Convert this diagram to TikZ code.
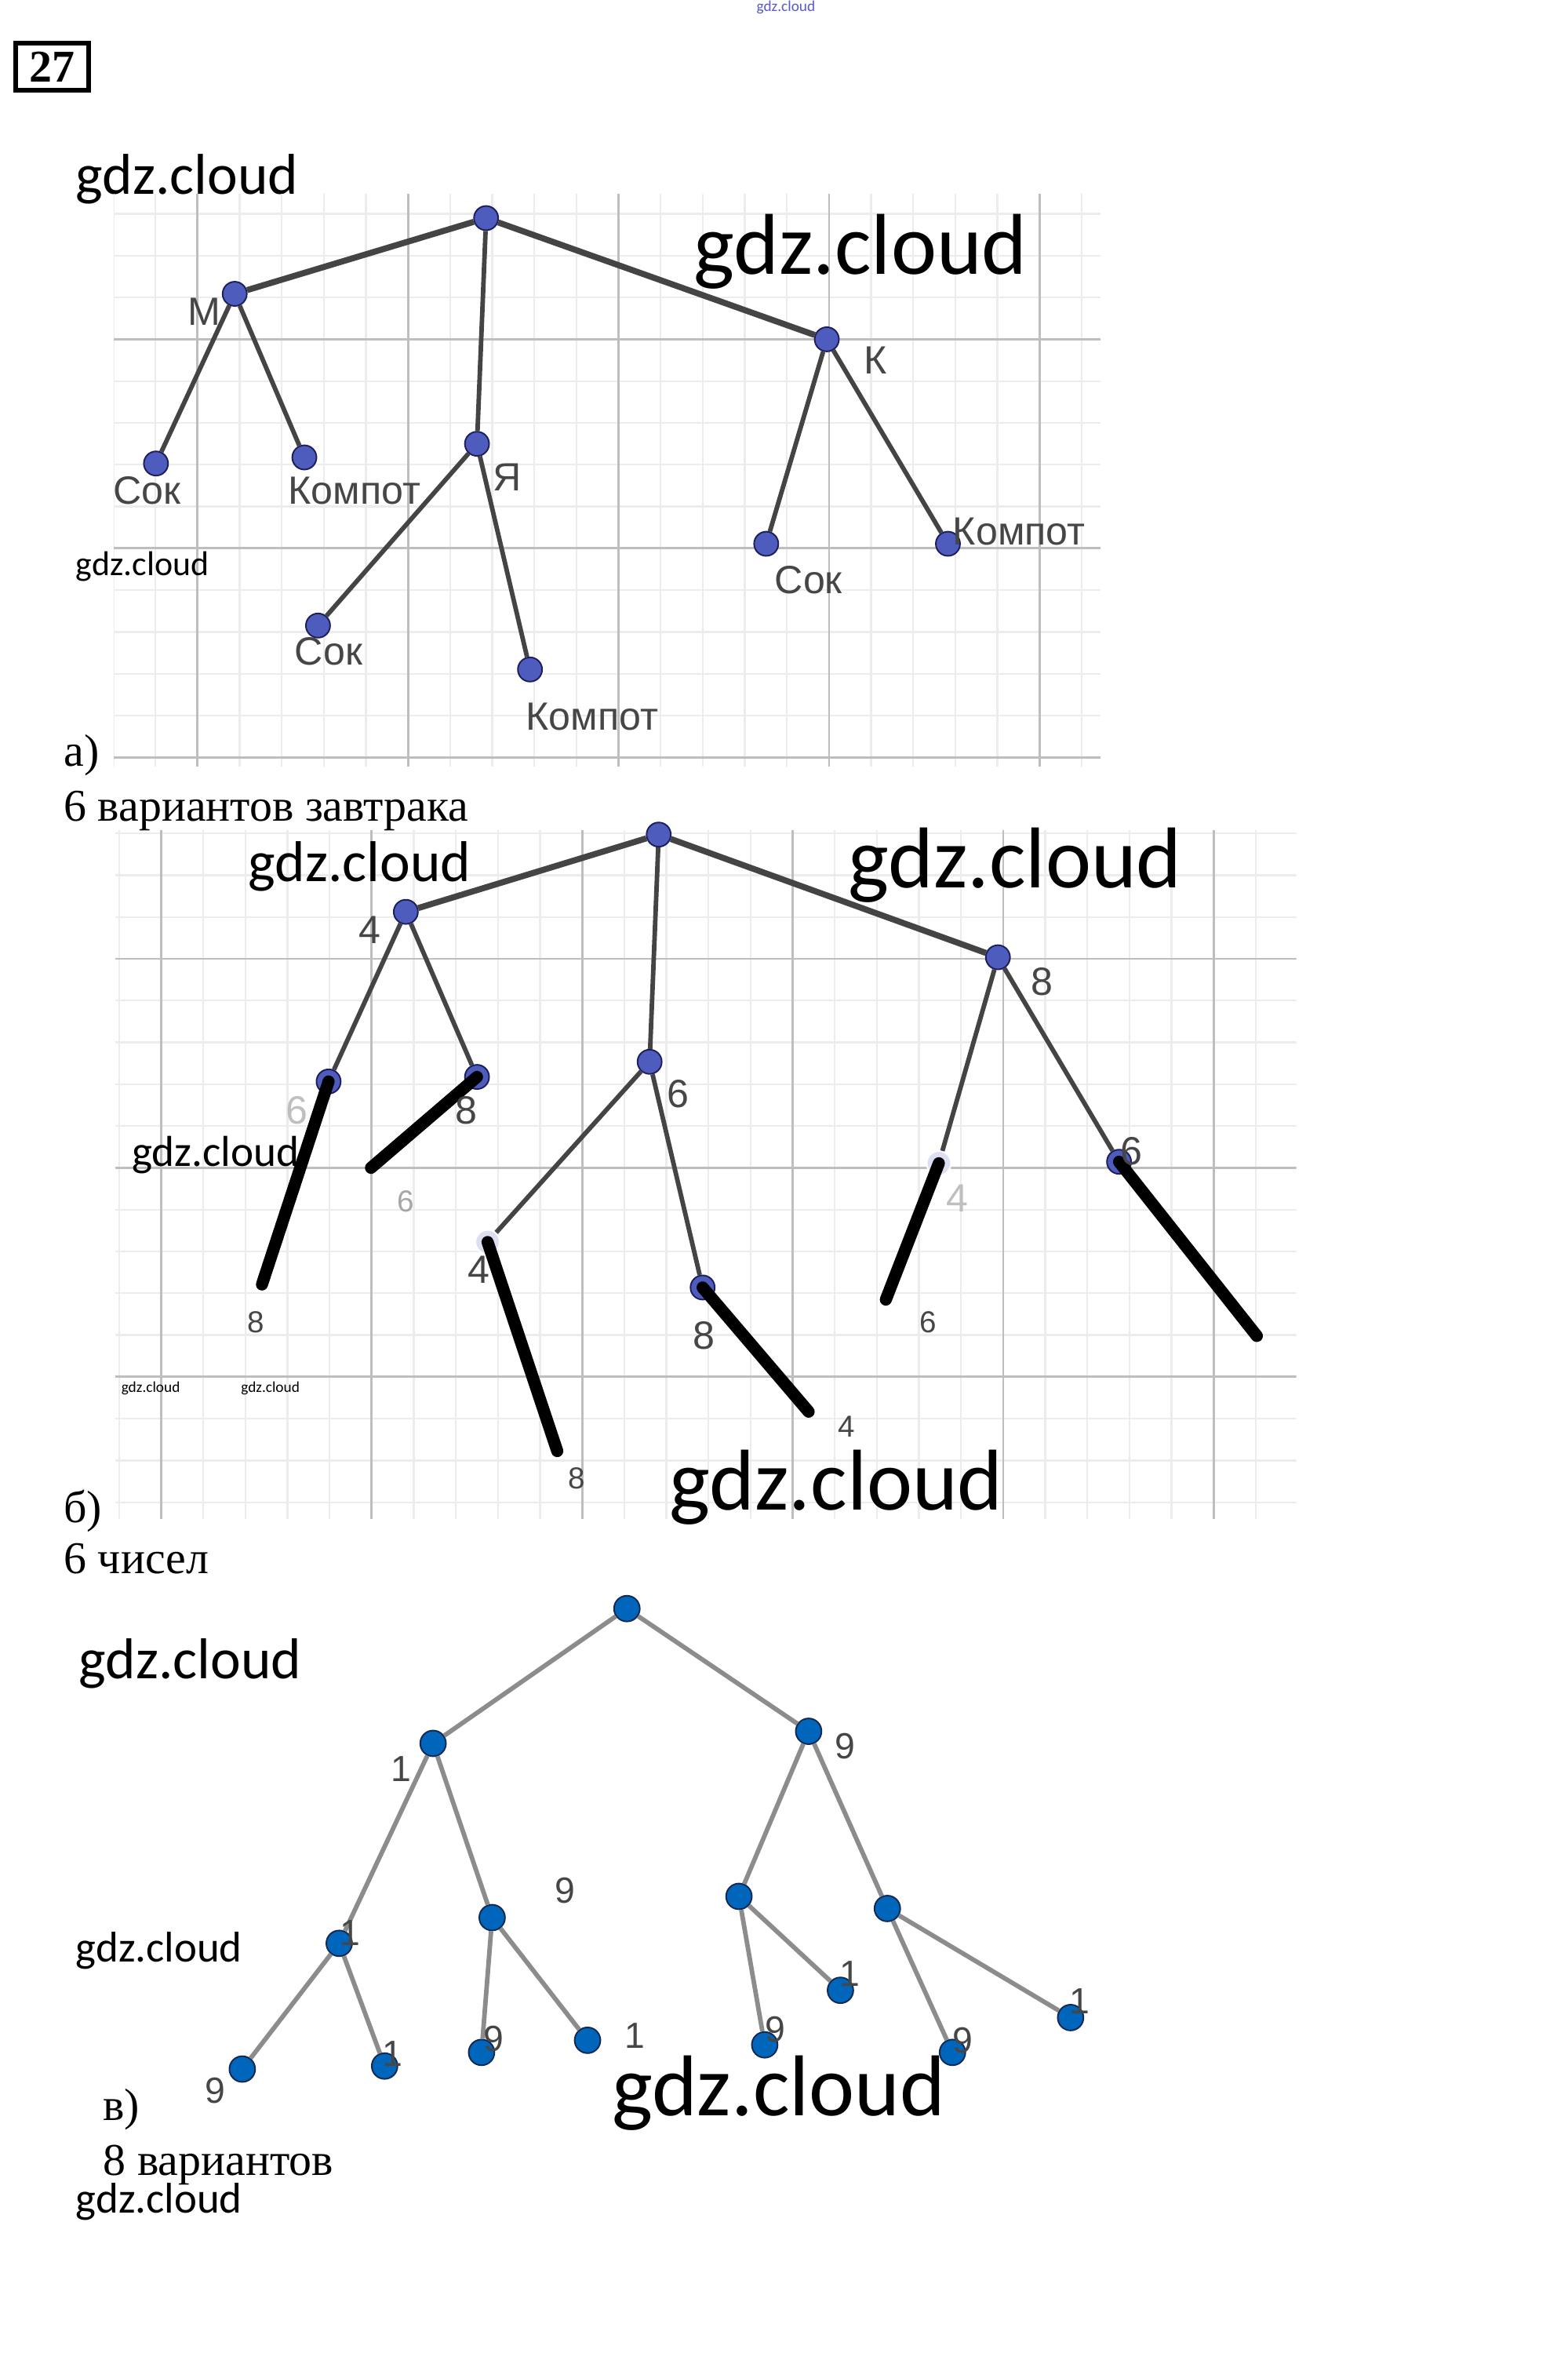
\documentclass[tikz,border=0pt]{standalone}
\usepackage{fontspec}
\setmainfont{Liberation Serif}
\newfontfamily\gdzf{Carlito}
\newfontfamily\labf{Liberation Sans}
\definecolor{nblue}{RGB}{78,92,190}
\definecolor{nedge}{RGB}{30,30,90}
\definecolor{vblue}{RGB}{0,102,187}
\definecolor{vedge}{RGB}{20,40,80}
\definecolor{ecol}{RGB}{68,68,68}
\definecolor{vecol}{RGB}{140,140,140}
\definecolor{gmaj}{RGB}{190,190,190}
\definecolor{gmin}{RGB}{236,236,236}
\definecolor{labc}{RGB}{70,70,70}
\definecolor{tinyblue}{RGB}{90,90,200}
\tikzset{
  wm/.style={font=\gdzf\fontsize{#1}{#1}\selectfont, anchor=base west, inner sep=0pt},
  serif/.style={font=\fontsize{30}{30}\selectfont, anchor=base west, inner sep=0pt},
  lab/.style={font=\labf\fontsize{#1}{#1}\selectfont, text=labc, inner sep=0pt},
  na/.style={circle, fill=nblue, draw=nedge, line width=1pt, minimum size=16pt, inner sep=0pt},
  nfade/.style={circle, fill=nblue!20, draw=white, line width=1pt, minimum size=16pt, inner sep=0pt},
  nv/.style={circle, fill=vblue, draw=vedge, line width=1pt, minimum size=17pt, inner sep=0pt},
  ea/.style={draw=ecol, line width=3pt},
  eroot/.style={draw=ecol, line width=4pt},
  ev/.style={draw=vecol, line width=3pt},
  thick stroke/.style={draw=black, line width=8pt, line cap=round},
  gminor/.style={draw=gmin, line width=1.2pt},
  gmajor/.style={draw=gmaj, line width=1.5pt},
}
\begin{document}
\begin{tikzpicture}[x=1pt,y=-1pt]
\useasboundingbox[fill=white] (0,0) rectangle (1035,1568);

% header
\node[font=\gdzf\fontsize{10}{10}\selectfont, text=tinyblue, inner sep=0pt] (hdr) at (519,5) {gdz.cloud};
\node[draw=black, line width=3pt, minimum width=48pt, minimum height=31pt, inner sep=0pt,
      font=\bfseries\fontsize{30}{30}\selectfont] (num) at (34.5,44) {27};
\node[wm=38] (w1) at (50,128) {gdz.cloud};

% ---------- grid a ----------
\begin{scope}
\clip (75,128) rectangle (727,506);
\foreach \i in {-2,...,21} \draw[gminor] ({130.5+27.8*\i},128) -- ({130.5+27.8*\i},506);
\foreach \j in {-4,...,10} \draw[gminor] (75,{224+27.6*\j}) -- (727,{224+27.6*\j});
\foreach \i in {0,...,4} \draw[gmajor] ({130.5+139*\i},128) -- ({130.5+139*\i},506);
\foreach \j in {0,1,2} \draw[gmajor] (75,{224+138*\j}) -- (727,{224+138*\j});
\end{scope}

% ---------- tree a ----------
\node[na] (ar) at (321,144) {};
\node[na] (am) at (155,194) {};
\node[na] (ak) at (546,224) {};
\node[na] (aja) at (315,293) {};
\node[na] (am1) at (103,306) {};
\node[na] (am2) at (201,302) {};
\node[na] (aj1) at (210,413) {};
\node[na] (aj2) at (350,442) {};
\node[na] (ak1) at (506,359) {};
\node[na] (ak2) at (626,359) {};
\draw[eroot] (ar) -- (am);
\draw[eroot] (ar) -- (ak);
\draw[ea] (ar) -- (aja);
\draw[ea] (am) -- (am1);
\draw[ea] (am) -- (am2);
\draw[ea] (aja) -- (aj1);
\draw[ea] (aja) -- (aj2);
\draw[ea] (ak) -- (ak1);
\draw[ea] (ak) -- (ak2);

\node[lab=26] (lm) at (135,206) {М};
\node[lab=26] (lk) at (578,238) {К};
\node[lab=26] (lja) at (335,315) {Я};
\node[lab=26] (lm1) at (97,324) {Сок};
\node[lab=26] (lm2) at (234,324) {Компот};
\node[lab=26] (lj1) at (217,430) {Сок};
\node[lab=26] (lj2) at (391,473) {Компот};
\node[lab=26] (lk1) at (534,383) {Сок};
\node[lab=26] (lk2) at (673,351) {Компот};

\node[wm=57] (w2) at (458,181) {gdz.cloud};
\node[wm=22.7] (w3) at (50,380) {gdz.cloud};
\node[serif] (ta) at (42,506) {а)};
\node[serif] (ta2) at (42,542) {6 вариантов завтрака};

% ---------- grid b ----------
\begin{scope}
\clip (76,548) rectangle (856,1003);
\foreach \i in {-2,...,27} \draw[gminor] ({106.5+27.8*\i},548) -- ({106.5+27.8*\i},1003);
\foreach \j in {-4,...,14} \draw[gminor] (76,{633+27.6*\j}) -- (856,{633+27.6*\j});
\foreach \i in {0,...,5} \draw[gmajor] ({106.5+139*\i},548) -- ({106.5+139*\i},1003);
\foreach \j in {0,1,2} \draw[gmajor] (76,{633+138*\j}) -- (856,{633+138*\j});
\end{scope}

% ---------- tree b ----------
\node[na] (br) at (435,551) {};
\node[na] (b4) at (268,602) {};
\node[na] (b8) at (659,632) {};
\node[na] (b6) at (429,701) {};
\node[na] (b46) at (217,714) {};
\node[na] (b48) at (315,711) {};
\node[nfade] (b64) at (322,820) {};
\node[na] (b68) at (464,850) {};
\node[nfade] (b84) at (620,768) {};
\node[na] (b86) at (739,767) {};
\draw[eroot] (br) -- (b4);
\draw[eroot] (br) -- (b8);
\draw[ea] (br) -- (b6);
\draw[ea] (b4) -- (b46);
\draw[ea] (b4) -- (b48);
\draw[ea] (b6) -- (b64);
\draw[ea] (b6) -- (b68);
\draw[ea] (b8) -- (b84);
\draw[ea] (b8) -- (b86);

\coordinate (c1) at (173,848);
\coordinate (c2) at (245,771);
\coordinate (c3) at (368,958);
\coordinate (c4) at (534,932);
\coordinate (c5) at (585,858);
\coordinate (c6) at (830,882);
\draw[thick stroke] (b46.center) -- (c1);
\draw[thick stroke] (b48.center) -- (c2);
\draw[thick stroke] (b64.center) -- (c3);
\draw[thick stroke] (b68.center) -- (c4);
\draw[thick stroke] (b84.center) -- (c5);
\draw[thick stroke] (b86.center) -- (c6);

\node[lab=26] (l4) at (244,614) {4};
\node[lab=26] (l8) at (688,648) {8};
\node[lab=26] (l6) at (448,722) {6};
\node[lab=26, text=gray!50] (l46) at (196,733) {6};
\node[lab=26] (l48) at (308,733) {8};
\node[lab=20, text=gray!70] (lx6) at (268,793) {6};
\node[lab=26] (l64) at (316,838) {4};
\node[lab=26] (l68) at (465,882) {8};
\node[lab=26, text=gray!50] (l84) at (632,791) {4};
\node[lab=26] (l86) at (747,760) {6};
\node[lab=20] (e1) at (169,873) {8};
\node[lab=20] (e3) at (381,976) {8};
\node[lab=20] (e4) at (559,942) {4};
\node[lab=20] (e5) at (613,873) {6};

\node[wm=38] (w4) at (164,582) {gdz.cloud};
\node[wm=57] (w5) at (560,586) {gdz.cloud};
\node[wm=28.6] (w6) at (87,770) {gdz.cloud};
\node[wm=10] (w7) at (80,919) {gdz.cloud};
\node[wm=10] (w8) at (159,919) {gdz.cloud};
\node[wm=57] (w9) at (442,997) {gdz.cloud};
\node[serif] (tb) at (42,1005) {б)};
\node[serif] (tb2) at (42,1039) {6 чисел};

% ---------- tree v ----------
\node[nv] (vr) at (414,1062) {};
\node[nv] (v1) at (286,1151) {};
\node[nv] (v9) at (534,1143) {};
\node[nv] (v11) at (224,1283) {};
\node[nv] (v19) at (325,1266) {};
\node[nv] (v91) at (488,1252) {};
\node[nv] (v99) at (586,1260) {};
\node[nv] (v111) at (160,1366) {};
\node[nv] (v112) at (254,1364) {};
\node[nv] (v191) at (318,1355) {};
\node[nv] (v192) at (388,1347) {};
\node[nv] (v911) at (505,1350) {};
\node[nv] (v912) at (555,1314) {};
\node[nv] (v991) at (629,1355) {};
\node[nv] (v992) at (707,1332) {};
\draw[ev] (vr) -- (v1);
\draw[ev] (vr) -- (v9);
\draw[ev] (v1) -- (v11);
\draw[ev] (v1) -- (v19);
\draw[ev] (v9) -- (v91);
\draw[ev] (v9) -- (v99);
\draw[ev] (v11) -- (v111);
\draw[ev] (v11) -- (v112);
\draw[ev] (v19) -- (v191);
\draw[ev] (v19) -- (v192);
\draw[ev] (v91) -- (v911);
\draw[ev] (v91) -- (v912);
\draw[ev] (v99) -- (v991);
\draw[ev] (v99) -- (v992);

\node[lab=24] (m1) at (265,1168) {1};
\node[lab=24] (m2) at (558,1153) {9};
\node[lab=24] (m3) at (373,1248) {9};
\node[lab=24] (m4) at (231,1276) {1};
\node[lab=24] (m5) at (142,1380) {9};
\node[lab=24] (m6) at (259,1356) {1};
\node[lab=24] (m7) at (326,1346) {9};
\node[lab=24] (m8) at (419,1344) {1};
\node[lab=24] (m9) at (512,1340) {9};
\node[lab=24] (m10) at (561,1303) {1};
\node[lab=24] (m11) at (636,1347) {9};
\node[lab=24] (m12) at (713,1321) {1};

\node[wm=38] (w10) at (52,1108) {gdz.cloud};
\node[wm=28.4] (w11) at (50,1295) {gdz.cloud};
\node[wm=57] (w12) at (404,1397) {gdz.cloud};
\node[serif] (tv) at (68,1400) {в)};
\node[serif] (tv2) at (68,1436) {8 вариантов};
\node[wm=28.4] (w13) at (50,1461) {gdz.cloud};
\end{tikzpicture}
\end{document}
